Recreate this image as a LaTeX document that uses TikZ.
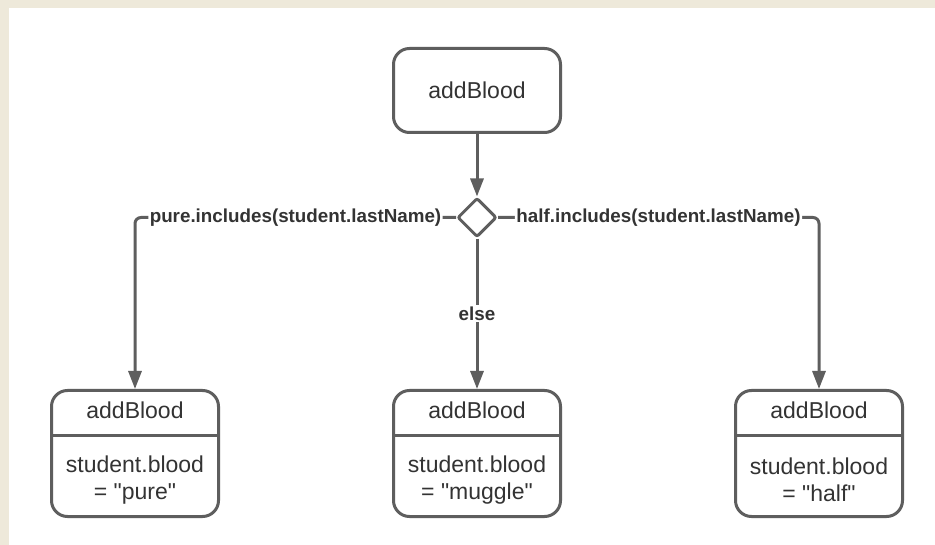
\documentclass[tikz,border=0pt]{standalone}
\usepackage{fontspec}
\setmainfont{Liberation Sans}[Ligatures=TeXOff]
\usetikzlibrary{arrows.meta,shapes.geometric}
\definecolor{linegray}{HTML}{5E5E5E}
\definecolor{txtgray}{HTML}{333333}
\definecolor{parch}{HTML}{EEE9DA}
\tikzset{
  actbox/.style={draw=linegray, line width=3pt, rounded corners=16pt, minimum width=167pt, minimum height=126pt, inner sep=0pt},
  boxtext/.style={text=txtgray, font=\fontsize{23}{27.5}\selectfont, inner sep=0pt},
  choicebox/.style={draw=linegray, line width=3pt, diamond, aspect=1, minimum width=39pt, minimum height=39pt, inner sep=0pt, rounded corners=2pt, fill=white},
  condlabel/.style={fill=white, text=txtgray, font=\bfseries\fontsize{18.8}{20}\selectfont, inner sep=1.5pt},
  flow/.style={draw=linegray, line width=3pt, -{Triangle[length=18pt,width=13pt]}},
  divider/.style={draw=linegray, line width=3pt},
}
\begin{document}
\begin{tikzpicture}[x=1pt, y=-1pt]
        % background
        \useasboundingbox (0,0) rectangle (935,545);
        \fill[parch] (0,0) rectangle (935,545);
        \fill[white] (9,8) rectangle (935,545);
        % nodes
        \node[actbox, minimum height=84pt, boxtext] (start) at (477,90.5) {addBlood};
        \node[choicebox] (choice) at (477,217.5) {};
        \node[actbox] (pure) at (135,453.5) {};
        \node[actbox] (muggle) at (477,453.5) {};
        \node[actbox] (half) at (819,453.5) {};
        \node[boxtext] (pureT) at (135,410) {addBlood};
        \node[boxtext] (muggleT) at (477,410) {addBlood};
        \node[boxtext] (halfT) at (819,410) {addBlood};
        \node[boxtext, align=center] (pureB) at (135,480) {student.blood\\= "pure"};
        \node[boxtext, align=center] (muggleB) at (477,480) {student.blood\\= "muggle"};
        \node[boxtext, align=center] (halfB) at (819,480) {student.blood\\= "half"};
        % dividers
        \draw[divider] ([yshift=-46.5pt]pure.north west) -- ([yshift=-46.5pt]pure.north east);
        \draw[divider] ([yshift=-46.5pt]muggle.north west) -- ([yshift=-46.5pt]muggle.north east);
        \draw[divider] ([yshift=-46.5pt]half.north west) -- ([yshift=-46.5pt]half.north east);
        % lines
        \draw[flow] (start) -- (choice);
        \draw[flow, rounded corners=6pt] (choice.west) -| node[pos=0.25, condlabel] {pure.includes(student.lastName)} (pure.north);
        \draw[flow, rounded corners=6pt] (choice.east) -| node[pos=0.25, condlabel] {half.includes(student.lastName)} (half.north);
        \draw[flow] (choice) -- node[condlabel] {else} (muggle);
      \end{tikzpicture}
\end{document}
